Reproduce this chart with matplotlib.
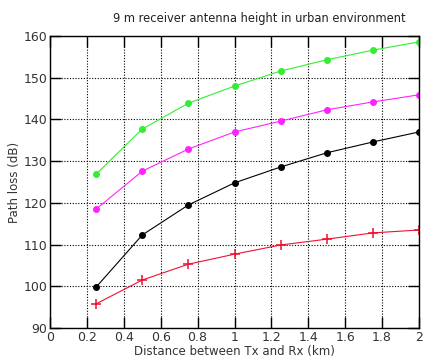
import matplotlib

matplotlib.use("Agg")
import matplotlib.pyplot as plt

distance_km = [0.25, 0.5, 0.75, 1.0, 1.25, 1.5, 1.75, 2.0]
loss_green = [126.9, 137.7, 143.9, 148.0, 151.6, 154.3, 156.6, 158.6]
loss_magenta = [118.5, 127.6, 132.9, 137.0, 139.6, 142.3, 144.2, 145.9]
loss_black = [99.8, 112.3, 119.5, 124.8, 128.6, 132.0, 134.6, 137.0]
loss_red = [95.8, 101.5, 105.3, 107.7, 109.9, 111.3, 112.8, 113.5]

x_ticks = [0, 0.2, 0.4, 0.6, 0.8, 1, 1.2, 1.4, 1.6, 1.8, 2]
x_tick_labels = ["0", "0.2", "0.4", "0.6", "0.8", "1", "1.2", "1.4", "1.6", "1.8", "2"]
y_ticks = [90, 100, 110, 120, 130, 140, 150, 160]

plt.rcParams["font.family"] = ["DejaVu Sans"]

fig = plt.figure(figsize=(4.36, 3.62), dpi=100)
ax = fig.add_axes([0.1147, 0.0939, 0.8463, 0.8066])

ax.plot(distance_km, loss_green, color="#33ee33", lw=0.8, marker="o", ms=4)
ax.plot(distance_km, loss_magenta, color="#ff22ff", lw=0.8, marker="o", ms=4)
ax.plot(distance_km, loss_black, color="black", lw=0.8, marker="o", ms=4)
ax.plot(distance_km, loss_red, color="#ee1133", lw=0.8, marker="+", ms=6.5, mew=1.1)

ax.set_xlim(0, 2)
ax.set_ylim(90, 160)
ax.set_xticks(x_ticks)
ax.set_xticklabels(x_tick_labels)
ax.set_yticks(y_ticks)
ax.grid(True, color="black", linestyle=(0, (1, 1.5)), linewidth=0.8)
ax.tick_params(direction="in", length=8, width=1, labelsize=9, colors="black",
               labelcolor="#333333", top=True, right=True, pad=2)
for spine in ax.spines.values():
    spine.set_linewidth(1)

ax.set_xlabel("Distance between Tx and Rx (km)", fontsize=8.5, color="#333333", labelpad=1)
ax.set_ylabel("Path loss (dB)", fontsize=8.5, color="#333333", labelpad=2)
fig.text(0.594, 0.948, "9 m receiver antenna height in urban environment",
         ha="center", va="center", fontsize=8.3, color="#222222")

fig.savefig("out.png", dpi=100)
